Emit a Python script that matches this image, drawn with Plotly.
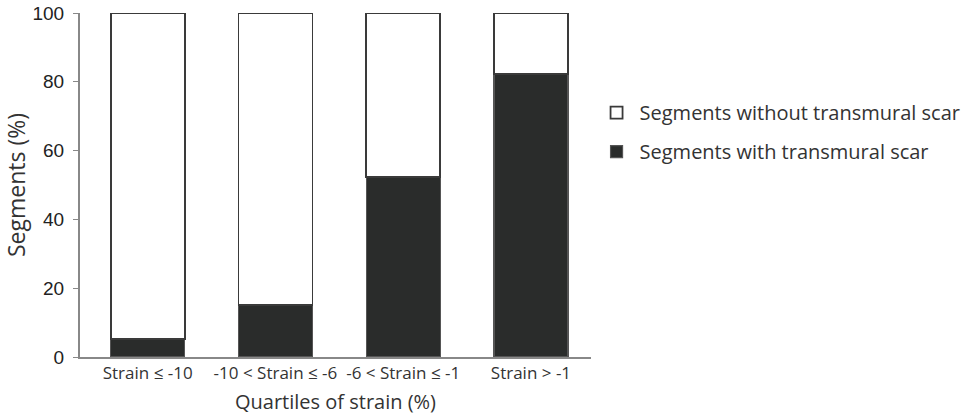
import plotly.graph_objects as go

categories = ["Strain ≤ -10", "-10 < Strain ≤ -6", "-6 < Strain ≤ -1", "Strain > -1"]
with_scar = [5.2, 15.1, 52.3, 82.2]
without_scar = [94.8, 84.9, 47.7, 17.8]
y_ticks = [0, 20, 40, 60, 80, 100]

DARK = "#2a2c2b"
TEXT = "#333333"
HUM = "Open Sans, Noto Sans, sans-serif"

fig = go.Figure()
fig.add_trace(go.Bar(
    x=[0, 1, 2, 3], y=with_scar, name="Segments with transmural scar",
    marker=dict(color=DARK, line=dict(color="#555555", width=1.2)),
    width=0.58, legendgroup="b", legendrank=2,
))
fig.add_trace(go.Bar(
    x=[0, 1, 2, 3], y=without_scar, name="Segments without transmural scar",
    marker=dict(color="white", line=dict(color="#3a3a3a", width=1.8)),
    width=0.58, legendgroup="a", legendrank=1,
))

fig.update_layout(
    barmode="stack",
    width=969, height=418,
    margin=dict(l=80, r=378, t=13, b=61, autoexpand=False),
    paper_bgcolor="white", plot_bgcolor="white",
    font=dict(family=HUM, color=TEXT),
    showlegend=True,
    legend=dict(
        x=1.005, y=0.767, xanchor="left", yanchor="top",
        font=dict(family=HUM, size=20, color=TEXT),
        traceorder="grouped", tracegroupgap=10, itemwidth=36,
        bgcolor="rgba(0,0,0,0)",
    ),
    xaxis=dict(
        range=[-0.53, 3.47], automargin=False,
        tickmode="array", tickvals=[0, 1, 2, 3], ticktext=categories,
        showline=True, linecolor="#888888", linewidth=2,
        ticks="", showgrid=False, zeroline=False,
        tickfont=dict(family=HUM, size=17, color=TEXT),
        title=dict(text="Quartiles of strain (%)", font=dict(family=HUM, size=20, color=TEXT), standoff=12),
    ),
    yaxis=dict(
        range=[0, 100], automargin=False,
        tickmode="array", tickvals=y_ticks,
        showline=True, linecolor="#888888", linewidth=2,
        ticks="outside", ticklen=5, tickcolor="#888888", tickwidth=1,
        ticklabelstandoff=5,
        showgrid=False, zeroline=False,
        tickfont=dict(family="Liberation Sans, Arial, sans-serif", size=19, color="#222222"),
        title=dict(text="Segments (%)", font=dict(family=HUM, size=23, color=TEXT), standoff=10),
    ),
)

fig.write_html("out.html")
